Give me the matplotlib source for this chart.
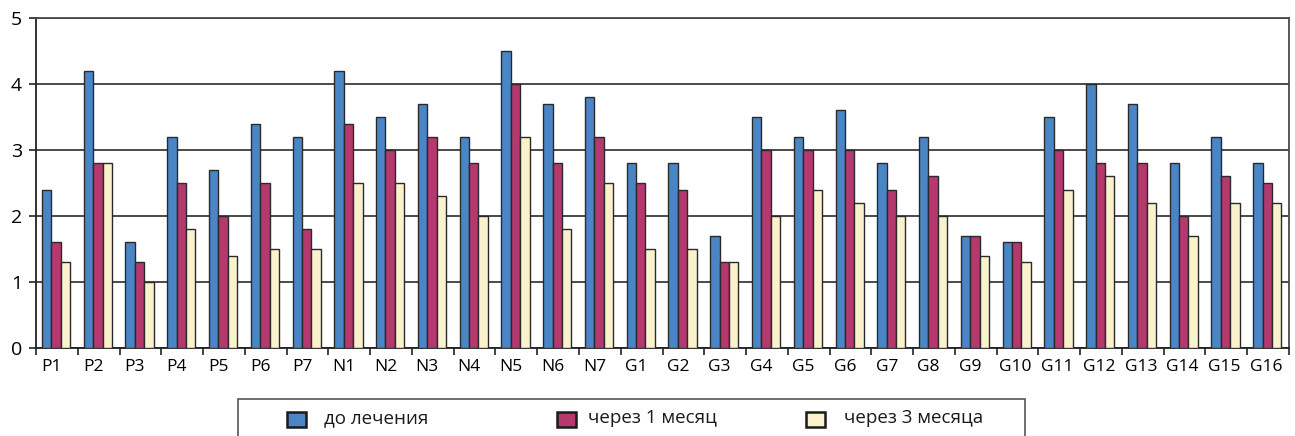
import numpy as np
import matplotlib
matplotlib.use("Agg")
import matplotlib.pyplot as plt
import matplotlib.transforms as mtrans
from matplotlib.patches import Rectangle

plt.rcParams['font.family'] = ['Open Sans', 'DejaVu Sans']

categories = ['P1', 'P2', 'P3', 'P4', 'P5', 'P6', 'P7',
              'N1', 'N2', 'N3', 'N4', 'N5', 'N6', 'N7',
              'G1', 'G2', 'G3', 'G4', 'G5', 'G6', 'G7', 'G8',
              'G9', 'G10', 'G11', 'G12', 'G13', 'G14', 'G15', 'G16']

before = [2.4, 4.2, 1.6, 3.2, 2.7, 3.4, 3.2,
          4.2, 3.5, 3.7, 3.2, 4.5, 3.7, 3.8,
          2.8, 2.8, 1.7, 3.5, 3.2, 3.6, 2.8, 3.2,
          1.7, 1.6, 3.5, 4.0, 3.7, 2.8, 3.2, 2.8]
month1 = [1.6, 2.8, 1.3, 2.5, 2.0, 2.5, 1.8,
          3.4, 3.0, 3.2, 2.8, 4.0, 2.8, 3.2,
          2.5, 2.4, 1.3, 3.0, 3.0, 3.0, 2.4, 2.6,
          1.7, 1.6, 3.0, 2.8, 2.8, 2.0, 2.6, 2.5]
month3 = [1.3, 2.8, 1.0, 1.8, 1.4, 1.5, 1.5,
          2.5, 2.5, 2.3, 2.0, 3.2, 1.8, 2.5,
          1.5, 1.5, 1.3, 2.0, 2.4, 2.2, 2.0, 2.0,
          1.4, 1.3, 2.4, 2.6, 2.2, 1.7, 2.2, 2.2]

series_labels = ['до лечения', 'через 1 месяц', 'через 3 месяца']
colors = ['#4a86c6', '#b5386f', '#faf2cc']
y_ticks = [0, 1, 2, 3, 4, 5]

W, H = 1295, 436
fig = plt.figure(figsize=(W / 100, H / 100), dpi=100)
ax = fig.add_axes([36 / W, 88 / H, (1289 - 36) / W, (348 - 18) / H])

x = np.arange(len(categories))
bw = 0.225
grid_c = '#4a4a4a'
for k, (vals, col) in enumerate(zip([before, month1, month3], colors)):
    ax.bar(x + (k - 1) * bw - 0.02, vals, width=bw, color=col,
           edgecolor='#2a2a2a', linewidth=1.0, zorder=3)

ax.set_xlim(-0.5, len(categories) - 0.5)
ax.set_ylim(0, 5)
ax.set_yticks(y_ticks)
ax.yaxis.grid(True, color=grid_c, linewidth=1.4, zorder=0)
ax.set_axisbelow(True)

ax.set_xticks(x)
ax.set_xticklabels(categories, fontsize=12.5)
ax.set_xticks(np.arange(len(categories) + 1) - 0.5, minor=True)
ax.tick_params(axis='x', which='major', length=0, pad=8)
ax.tick_params(axis='x', which='minor', length=5, width=1.2, color='#222222', direction='out')
ax.tick_params(axis='y', length=5, width=1.2, color='#222222', labelsize=14, pad=5)

# short labels sit a little left of the category centre
for lbl in ax.get_xticklabels():
    dx = -5.5 if len(lbl.get_text()) == 2 else -2.0
    lbl.set_transform(lbl.get_transform() +
                      mtrans.ScaledTranslation(dx / 100, 0, fig.dpi_scale_trans))

for side in ['left', 'bottom']:
    ax.spines[side].set_color('#222222')
    ax.spines[side].set_linewidth(1.3)
for side in ['right', 'top']:
    ax.spines[side].set_color(grid_c)
    ax.spines[side].set_linewidth(1.3)

# legend box running off the bottom edge, with hand-placed keys
def px(xp, yp):
    return xp / W, 1 - yp / H

fig.patches.append(Rectangle(px(238, 445), (1025 - 238) / W, (445 - 399) / H,
                             transform=fig.transFigure, fill=False,
                             edgecolor='#555555', linewidth=1.2))
key_x = [287, 557, 806]
text_x = [324, 588, 844]
for kx, tx, col, lab in zip(key_x, text_x, colors, series_labels):
    fig.patches.append(Rectangle(px(kx, 427), 19 / W, 15 / H, transform=fig.transFigure,
                                 facecolor=col, edgecolor='#1a1a1a', linewidth=1.8))
    fx, fy = px(tx, 418)
    fig.text(fx, fy, lab, fontsize=13.5, va='center', ha='left', color='#1a1a1a')

fig.savefig('out.png', dpi=100)
